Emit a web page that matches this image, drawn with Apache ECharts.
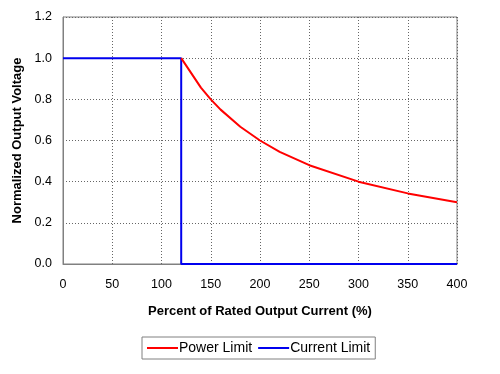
<!DOCTYPE html>
<html><head><meta charset="utf-8">
<script src="https://cdn.jsdelivr.net/npm/echarts@6/dist/echarts.min.js"></script>
<style>html,body{margin:0;padding:0;background:#fff}#c{width:500px;height:374px}</style>
</head><body><div id="c"></div>
<script>
const powerX = [120, 140, 150, 160, 180, 200, 220, 250, 300, 350, 400];
const powerY = [1.0, 0.857, 0.8, 0.75, 0.667, 0.6, 0.545, 0.48, 0.4, 0.343, 0.3];
const currentX = [0, 120, 120, 400];
const currentY = [1.0, 1.0, 0, 0];
const seriesNames = ['Power Limit', 'Current Limit'];
const xTitle = 'Percent of Rated Output Current (%)';
const yTitle = 'Normalized Output Voltage';

const zip = (xs, ys) => xs.map((x, i) => [x, ys[i]]);
const font = 'Liberation Sans, Arial, sans-serif';
const chart = echarts.init(document.getElementById('c'));
chart.setOption({
  animation: false,
  grid: { left: 63, right: 43, top: 17, bottom: 110, show: true, borderColor: '#808080', borderWidth: 1,
          outerBoundsMode: 'none', containLabel: false },
  xAxis: {
    type: 'value', min: 0, max: 400, interval: 50,
    name: xTitle, nameLocation: 'middle', nameGap: 41,
    nameTextStyle: { fontFamily: font, fontWeight: 'bold', fontSize: 13, color: '#000' },
    axisLine: { lineStyle: { color: '#808080' } },
    axisTick: { show: false },
    axisLabel: { fontFamily: font, fontSize: 12.5, color: '#000', margin: 14 },
    splitLine: { lineStyle: { type: [1, 2], color: '#666' } }
  },
  yAxis: {
    type: 'value', min: 0, max: 1.2, interval: 0.2,
    name: yTitle, nameLocation: 'middle', nameGap: 38,
    nameTextStyle: { fontFamily: font, fontWeight: 'bold', fontSize: 13, color: '#000' },
    axisLine: { show: true, lineStyle: { color: '#808080' } },
    axisTick: { show: false },
    axisLabel: { fontFamily: font, fontSize: 12.5, color: '#000', margin: 11, formatter: v => v.toFixed(1) },
    splitLine: { lineStyle: { type: [1, 2], color: '#666' } }
  },
  legend: {
    bottom: 15, left: 142,
    data: seriesNames,
    borderColor: '#808080', borderWidth: 1, padding: [4, 5],
    itemWidth: 31, itemHeight: 2, itemGap: 6,
    icon: 'rect',
    textStyle: { fontFamily: font, fontSize: 14, color: '#000', padding: [0, 0, 0, -4] }
  },
  series: [
    { name: seriesNames[0], type: 'line', data: zip(powerX, powerY), showSymbol: false,
      lineStyle: { color: '#ff0000', width: 2 }, itemStyle: { color: '#ff0000' }, z: 3 },
    { name: seriesNames[1], type: 'line', data: zip(currentX, currentY), showSymbol: false,
      lineStyle: { color: '#0000ee', width: 2 }, itemStyle: { color: '#0000ee' }, z: 2 }
  ]
});
</script></body></html>
